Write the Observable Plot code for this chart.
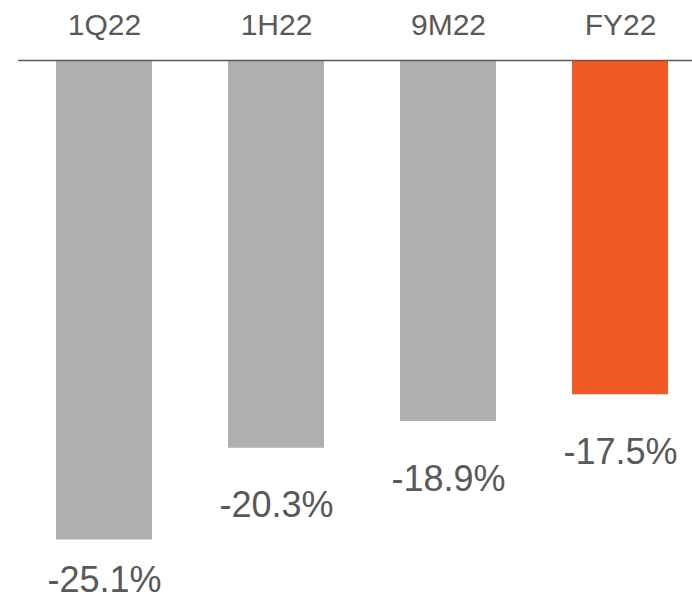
<!DOCTYPE html>
<html>
<head>
<meta charset="utf-8">
<script src="https://cdn.jsdelivr.net/npm/d3@7"></script>
<script src="https://cdn.jsdelivr.net/npm/@observablehq/plot@0.6"></script>
<style>
  html, body { margin: 0; padding: 0; background: #fff; }
  #chart svg { display: block; }
</style>
</head>
<body>
<div id="chart"></div>
<script>
// Cumulative year-to-date change by reporting period
const periods = ["1Q22", "1H22", "9M22", "FY22"];
const changes = [-25.1, -20.3, -18.9, -17.5];
const highlight = ["FY22"];

const GREY = "#afafaf";
const ORANGE = "#f15a24";
const TEXT = "#595959";

const rows = periods.map((p, i) => ({period: p, value: changes[i]}));

// Value labels sit a fixed distance below each bar, kept inside the frame
const labelY = d => Math.max(d.value - 3.62, -27.8);

const chart = Plot.plot({
  width: 692,
  height: 600,
  marginTop: 60,
  marginBottom: 0,
  marginLeft: 18,
  marginRight: 0,
  style: {fontFamily: "'Liberation Sans', Arial, sans-serif", color: TEXT, background: "#fff"},
  x: {domain: periods, range: [18, 706], paddingInner: 0.442, paddingOuter: 0.221, axis: null, label: null},
  y: {domain: [-28.27, 0], axis: null},
  marks: [
    Plot.barY(rows, {
      x: "period",
      y: "value",
      fill: d => highlight.includes(d.period) ? ORANGE : GREY
    }),
    Plot.ruleY([0], {stroke: TEXT, strokeWidth: 1.5}),
    Plot.axisX({
      anchor: "top",
      label: null,
      tickSize: 0,
      tickPadding: 26,
      fontSize: 30,
      fill: TEXT
    }),
    Plot.text(rows, {
      x: "period",
      y: labelY,
      text: d => `${d.value.toFixed(1)}%`,
      lineAnchor: "bottom",
      fontSize: 36,
      fill: TEXT
    })
  ]
});

document.getElementById("chart").appendChild(chart);
</script>
</body>
</html>
